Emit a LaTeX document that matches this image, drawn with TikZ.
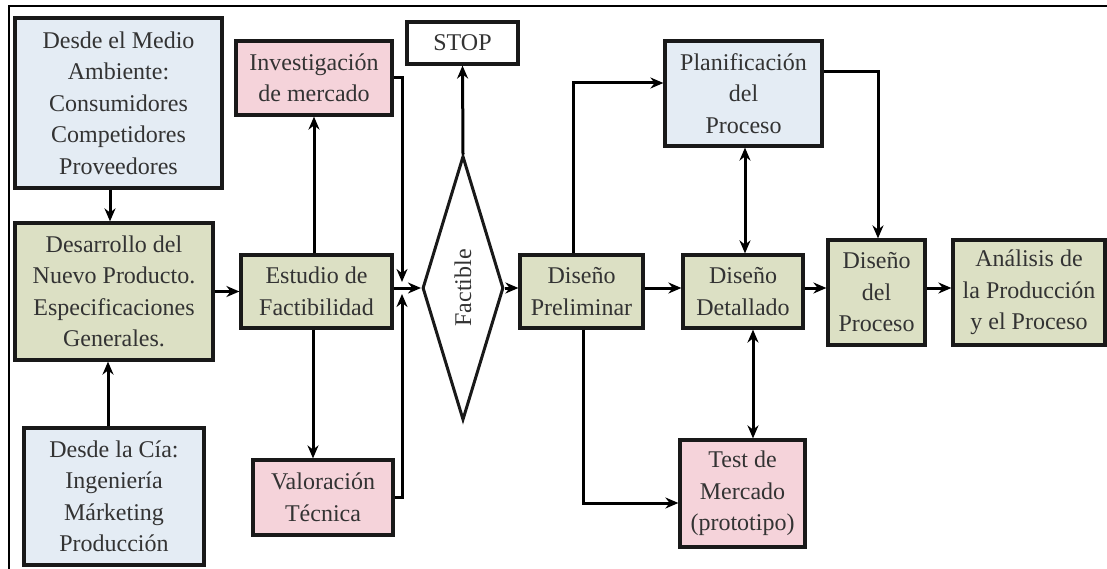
\documentclass[tikz,border=0pt]{standalone}
\usepackage{tikz}
\usepackage{fontspec}
\setmainfont{Liberation Serif}
\usetikzlibrary{arrows.meta,shapes.geometric}
\definecolor{boxblue}{HTML}{E4ECF4}
\definecolor{boxgreen}{HTML}{DCE0C4}
\definecolor{boxpink}{HTML}{F5D3DA}
\definecolor{inkgray}{HTML}{333333}
\tikzset{
	box/.style={draw=black!90, line width=3.2pt, align=center, inner sep=0pt, text=inkgray, font=\fontsize{24}{31.5}\selectfont},
	bluebox/.style={box, fill=boxblue},
	greenbox/.style={box, fill=boxgreen},
	pinkbox/.style={box, fill=boxpink},
	arr/.style={line width=3pt, -{Stealth[length=13pt,width=11pt]}},
	biarr/.style={line width=3pt, {Stealth[length=13pt,width=11pt]}-{Stealth[length=13pt,width=11pt]}}
}

\begin{document}
\begin{tikzpicture}[x=1pt, y=-1pt]
			%%%%% START %%%%%
			
			\useasboundingbox (0, 0) rectangle (1107, 569);
			\draw[line width=2.2pt] (9, 569) -- (9, 6) -- (1107, 6);
			
			\node[bluebox, minimum width=207, minimum height=170] (medio) at (118.5, 103) {Desde el Medio\\Ambiente:\\Consumidores\\Competidores\\Proveedores};
			\node[greenbox, minimum width=198, minimum height=137] (desarrollo) at (114, 291.5) {Desarrollo del\\Nuevo Producto.\\Especificaciones\\Generales.};
			\node[bluebox, minimum width=180, minimum height=137] (cia) at (114, 496.5) {Desde la C\'ia:\\Ingenier\'ia\\M\'arketing\\Producci\'on};
			
			\node[pinkbox, minimum width=156, minimum height=74] (invest) at (314, 78) {Investigaci\'on\\de mercado};
			\node[greenbox, minimum width=151, minimum height=73] (estudio) at (316.5, 291.5) {Estudio de\\Factibilidad};
			\node[pinkbox, minimum width=140, minimum height=75] (valor) at (323, 497.5) {Valoraci\'on\\T\'ecnica};
			
			\node[box, fill=white, minimum width=111, minimum height=42] (stop) at (462.5, 43) {STOP};
			\node[draw=black!90, line width=3pt, shape=diamond, aspect=0.3, inner sep=0pt, minimum width=81, minimum height=264, text=inkgray, font=\fontsize{24}{31}\selectfont] (fact) at (463, 288) {\rotatebox{90}{Factible}};
			
			\node[greenbox, minimum width=123, minimum height=73] (prelim) at (581.5, 291.5) {Dise\~no\\Preliminar};
			\node[bluebox, minimum width=157, minimum height=105] (planif) at (743.5, 93.5) {Planificaci\'on\\del\\Proceso};
			\node[greenbox, minimum width=120, minimum height=73] (detall) at (743, 291.5) {Dise\~no\\Detallado};
			\node[pinkbox, minimum width=125, minimum height=107] (test) at (742.5, 493.5) {Test de\\Mercado\\(prototipo)};
			\node[greenbox, minimum width=97, minimum height=105] (proceso) at (876.5, 292.5) {Dise\~no\\del\\Proceso};
			\node[greenbox, minimum width=152, minimum height=105] (analisis) at (1029, 292.5) {An\'alisis de\\la Producci\'on\\y el Proceso};
			
			\coordinate (jtop) at (402, 282);
			\coordinate (jbot) at (402, 294);
			
			\draw[arr] (medio.south -| 110, 0) -- (desarrollo.north -| 110, 0);
			\draw[arr] (cia.north -| 108, 0) -- (desarrollo.south -| 108, 0);
			\draw[arr] (desarrollo.east) -- (estudio.west);
			\draw[arr] (estudio.north -| invest.south) -- (invest.south);
			\draw[arr] (estudio.south -| 313, 0) -- (valor.north -| 313, 0);
			\draw[arr] (estudio.east |- fact.west) -- (fact.west);
			\draw[arr] (invest.east) -| (jtop);
			\draw[arr] (valor.east) -| (jbot);
			
			\draw[arr] (fact.north) -- (stop.south);
			\draw[arr] (fact.east) -- (prelim.west |- fact.east);
			\draw[arr] (prelim.north -| 573, 0) |- (planif.west |- 0, 83);
			\draw[arr] (prelim.south -| 583, 0) |- (test.west |- 0, 503);
			\draw[arr] (prelim.east |- fact.east) -- (detall.west |- fact.east);
			\draw[biarr] (planif.south -| 745, 0) -- (detall.north -| 745, 0);
			\draw[biarr] (detall.south -| 753, 0) -- (test.north -| 753, 0);
			\draw[arr] (detall.east |- fact.east) -- (proceso.west |- fact.east);
			\draw[arr] (planif.east |- 0, 72) -| (proceso.north -| 878, 0);
			\draw[arr] (proceso.east |- fact.east) -- (analisis.west |- fact.east);
			
			%%%%% END %%%%%
		\end{tikzpicture}
\end{document}
